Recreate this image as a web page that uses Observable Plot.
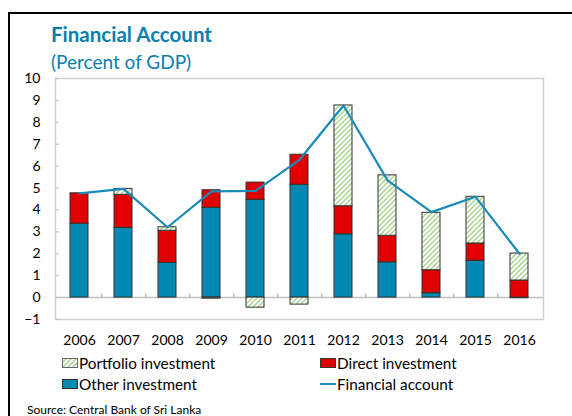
<!DOCTYPE html>
<html>
<head>
<meta charset="utf-8">
<script src="https://cdn.jsdelivr.net/npm/d3@7"></script>
<script src="https://cdn.jsdelivr.net/npm/@observablehq/plot@0.6"></script>
<style>
  html, body { margin: 0; padding: 0; background: #fff; }
  #wrap { position: relative; width: 572px; height: 416px; overflow: hidden; font-family: Lato, "Open Sans", sans-serif; }
  #box { position: absolute; left: 8px; top: 12px; width: 600px; height: 500px; border-left: 2.5px solid #000; border-top: 2.5px solid #000; }
  #title { position: absolute; left: 51px; top: 22px; font-size: 20.5px; font-weight: bold; color: #0a7fae; white-space: nowrap; }
  #subtitle { position: absolute; left: 51px; top: 50px; font-size: 19px; color: #0a7fae; white-space: nowrap; }
  #chart { position: absolute; left: 0; top: 60px; }
  .leg { position: absolute; font-size: 15.3px; color: #000; white-space: nowrap; display: flex; align-items: center; }
  .leg svg { margin-right: 1px; }
  #source { position: absolute; left: 27px; top: 402px; font-size: 12px; color: #000; white-space: nowrap; }
</style>
</head>
<body>
<div id="wrap">
  <div id="box"></div>
  <div id="title">Financial Account</div>
  <div id="subtitle">(Percent of GDP)</div>
  <div id="chart"></div>
  <div class="leg" style="left:62px; top:354px;"><svg width="16" height="10"><rect x="0.5" y="0.5" width="15" height="9" fill="url(#hatch)" stroke="#666" stroke-width="1"/></svg>Portfolio investment</div>
  <div class="leg" style="left:320px; top:354px;"><svg width="16" height="10"><rect x="0.5" y="0.5" width="15" height="9" fill="#e00000" stroke="#333" stroke-width="1"/></svg>Direct investment</div>
  <div class="leg" style="left:62px; top:375px;"><svg width="16" height="10"><rect x="0.5" y="0.5" width="15" height="9" fill="#0089b1" stroke="#333" stroke-width="1"/></svg>Other investment</div>
  <div class="leg" style="left:320px; top:375px;"><svg width="16" height="10"><line x1="0" y1="5" x2="16" y2="5" stroke="#1a8bb9" stroke-width="2"/></svg>Financial account</div>
  <div id="source">Source: Central Bank of Sri Lanka</div>
</div>
<script>
const years = ["2006","2007","2008","2009","2010","2011","2012","2013","2014","2015","2016"];
const otherInv = [3.37, 3.18, 1.58, 4.10, 4.46, 5.15, 2.89, 1.61, 0.20, 1.68, -0.03];
const directInv = [1.39, 1.51, 1.47, 0.80, 0.79, 1.37, 1.28, 1.21, 1.05, 0.79, 0.78];
const portfolioInv = [0.00, 0.27, 0.16, -0.05, -0.46, -0.32, 4.60, 2.76, 2.62, 2.13, 1.23];
const financialAcc = [4.76, 4.96, 3.21, 4.85, 4.87, 6.29, 8.77, 5.35, 3.90, 4.60, 2.00];
const yTicks = [-1,0,1,2,3,4,5,6,7,8,9,10];
const seriesNames = ["Other investment", "Direct investment", "Portfolio investment"];
const seriesFills = ["#0089b1", "#e00000", "url(#hatch)"];

const bars = [];
years.forEach((yr, i) => {
  bars.push({year: yr, series: seriesNames[0], value: otherInv[i]});
  bars.push({year: yr, series: seriesNames[1], value: directInv[i]});
  bars.push({year: yr, series: seriesNames[2], value: portfolioInv[i]});
});
const lineData = years.map((yr, i) => ({year: yr, value: financialAcc[i]}));

const W = 572, H = 295, mL = 55, mR = 29, mT = 18, mB = 36;
const step = (W - mL - mR) / years.length;

const chart = Plot.plot({
  width: W, height: H,
  marginLeft: mL, marginRight: mR, marginTop: mT, marginBottom: mB,
  style: {fontFamily: "Lato, 'Open Sans', sans-serif", fontSize: "14px", color: "#000", background: "transparent"},
  x: {domain: years, paddingInner: 0.58, paddingOuter: 0.29, label: null},
  y: {domain: [-1, 10], label: null},
  color: {domain: seriesNames, range: seriesFills},
  marks: [
    Plot.frame({stroke: "#cfcfcf", strokeWidth: 1.5}),
    Plot.axisY(yTicks, {tickSize: -4, tickPadding: 19, stroke: "#bfbfbf", fontSize: 14, label: null}),
    Plot.axisX({tickSize: 0, tickPadding: 16, fontSize: 14, label: null}),
    Plot.ruleY([0], {stroke: "#bfbfbf", strokeWidth: 1.5}),
    Plot.ruleX(years.slice(0, -1), {x: d => d, y1: 0, y2: 0, dx: step / 2, insetTop: -4, stroke: "#bfbfbf", strokeWidth: 1.5}),
    Plot.barY(bars, Plot.stackY({x: "year", y: "value", fill: "series", stroke: "#333", strokeWidth: 1})),
    Plot.lineY(lineData, {x: "year", y: "value", stroke: "#1a8bb9", strokeWidth: 2.2})
  ]
});

const svg = d3.select(chart);
const defs = svg.insert("defs", ":first-child");
const pat = defs.append("pattern").attr("id", "hatch").attr("patternUnits", "userSpaceOnUse").attr("width", 5).attr("height", 5);
pat.append("rect").attr("width", 5).attr("height", 5).attr("fill", "#fff");
pat.append("path").attr("d", "M-1,1 l2,-2 M0,5 l5,-5 M4,6 l2,-2").attr("stroke", "#a6d38e").attr("stroke-width", 1.4);

document.getElementById("chart").appendChild(chart);
</script>
</body>
</html>
